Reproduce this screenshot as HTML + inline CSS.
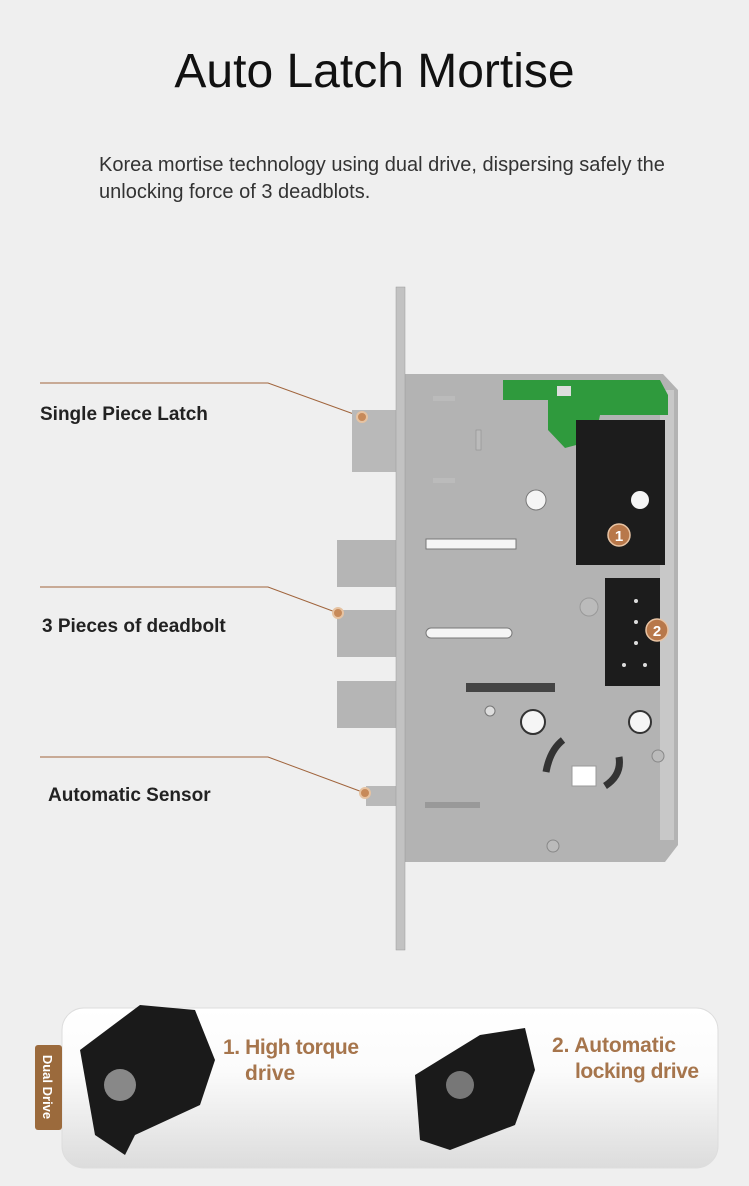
<!DOCTYPE html>
<html><head><meta charset="utf-8"><style>
body{margin:0;width:749px;height:1186px;background:#efefef;font-family:"Liberation Sans",sans-serif;position:relative;overflow:hidden}
.t{position:absolute;white-space:nowrap}
</style></head><body>
<div class="t" style="left:0;width:749px;text-align:center;top:44px;font-size:48px;color:#111;font-weight:300">Auto Latch Mortise</div>
<div class="t" style="left:99px;top:152px;font-size:20px;color:#333;line-height:27px">Korea mortise technology using dual drive, dispersing safely the<br>unlocking force of 3 deadblots.</div>
<div class="t" style="left:40px;top:404px;font-size:19px;font-weight:bold;color:#222">Single Piece Latch</div>
<div class="t" style="left:42px;top:616px;font-size:19px;font-weight:bold;color:#222">3 Pieces of deadbolt</div>
<div class="t" style="left:48px;top:785px;font-size:19px;font-weight:bold;color:#222">Automatic Sensor</div>
<svg width="749" height="1186" style="position:absolute;left:0;top:0">
<defs>
<linearGradient id="pg" x1="0" y1="0" x2="0" y2="1"><stop offset="0" stop-color="#fff"/><stop offset="0.4" stop-color="#fbfbfb"/><stop offset="1" stop-color="#dcdcdc"/></linearGradient>
</defs>
<g stroke="#a0643c" stroke-width="1" fill="none">
<polyline points="40,383 268,383 362,417"/>
<polyline points="40,587 268,587 338,613"/>
<polyline points="40,757 268,757 365,793"/>
</g>
<rect x="352" y="410" width="45" height="62" fill="#b9b9b9"/>
<rect x="337" y="540" width="60" height="47" fill="#b5b5b5"/>
<rect x="337" y="610" width="60" height="47" fill="#b5b5b5"/>
<rect x="337" y="681" width="60" height="47" fill="#b5b5b5"/>
<rect x="366" y="786" width="31" height="20" fill="#b9b9b9"/>
<polygon points="405,374 663,374 678,390 678,845 665,862 405,862" fill="#b3b3b3"/>
<rect x="660" y="390" width="14" height="450" fill="#c8c8c8"/>
<rect x="396" y="287" width="9" height="663" fill="#c2c2c2" stroke="#999" stroke-width="0.5"/>
<polygon points="503,380 660,380 668,395 668,415 600,415 595,440 565,448 548,430 548,400 503,400" fill="#2f9a3d"/>
<rect x="557" y="386" width="14" height="10" fill="#ddd"/>
<rect x="576" y="420" width="89" height="145" fill="#1c1c1c"/>
<circle cx="640" cy="500" r="9" fill="#f5f5f5"/>
<circle cx="619" cy="535" r="11" fill="#b8784a" stroke="#e8c4a4" stroke-width="1.5"/>
<text x="619" y="541" font-size="15" font-weight="bold" fill="#fff" text-anchor="middle" font-family="Liberation Sans">1</text>
<rect x="605" y="578" width="55" height="108" fill="#1c1c1c"/>
<circle cx="636" cy="601" r="2" fill="#ddd"/><circle cx="636" cy="622" r="2" fill="#ddd"/><circle cx="636" cy="643" r="2" fill="#ddd"/><circle cx="624" cy="665" r="2" fill="#ddd"/><circle cx="645" cy="665" r="2" fill="#ddd"/>
<circle cx="657" cy="630" r="11" fill="#b8784a" stroke="#e8c4a4" stroke-width="1.5"/>
<text x="657" y="636" font-size="15" font-weight="bold" fill="#fff" text-anchor="middle" font-family="Liberation Sans">2</text>
<circle cx="536" cy="500" r="10" fill="#f5f5f5" stroke="#777"/>
<circle cx="533" cy="722" r="12" fill="#f5f5f5" stroke="#333" stroke-width="2"/>
<circle cx="640" cy="722" r="11" fill="#f5f5f5" stroke="#333" stroke-width="2"/>
<rect x="426" y="539" width="90" height="10" fill="#f5f5f5" stroke="#777"/>
<rect x="426" y="628" width="86" height="10" rx="5" fill="#f5f5f5" stroke="#777"/>
<rect x="466" y="683" width="89" height="9" fill="#444"/>
<rect x="425" y="802" width="55" height="6" fill="#999"/>
<rect x="433" y="396" width="22" height="5" fill="#bbb"/>
<rect x="433" y="478" width="22" height="5" fill="#bbb"/>
<rect x="476" y="430" width="5" height="20" fill="#bbb" stroke="#888" stroke-width="0.5"/>
<rect x="572" y="766" width="24" height="20" fill="#fff" stroke="#999"/>
<path d="M546 772 Q550 750 563 740" stroke="#333" stroke-width="7" fill="none"/>
<path d="M605 786 Q622 775 619 757" stroke="#333" stroke-width="7" fill="none"/>
<circle cx="589" cy="607" r="9" fill="#bbb" stroke="#999"/>
<circle cx="553" cy="846" r="6" fill="#bbb" stroke="#888"/>
<circle cx="658" cy="756" r="6" fill="#bbb" stroke="#888"/>
<circle cx="490" cy="711" r="5" fill="#ddd" stroke="#777"/>
<circle cx="362" cy="417" r="5" fill="#c78a5a" stroke="#e6c3a2" stroke-width="2"/>
<circle cx="338" cy="613" r="5" fill="#c78a5a" stroke="#e6c3a2" stroke-width="2"/>
<circle cx="365" cy="793" r="5" fill="#c78a5a" stroke="#e6c3a2" stroke-width="2"/>
<rect x="62" y="1008" width="656" height="160" rx="22" fill="url(#pg)" stroke="#ddd"/>
<rect x="35" y="1045" width="27" height="85" rx="3" fill="#9b6a3c"/>
<text transform="translate(43,1087) rotate(90)" font-size="13" font-weight="bold" fill="#fff" text-anchor="middle" font-family="Liberation Sans">Dual Drive</text>
<polygon points="80,1050 140,1005 195,1010 215,1060 200,1105 135,1135 125,1155 95,1135" fill="#1a1a1a"/>
<circle cx="120" cy="1085" r="16" fill="#888"/>
<polygon points="415,1075 480,1035 525,1028 535,1070 515,1125 450,1150 420,1140" fill="#1a1a1a"/>
<circle cx="460" cy="1085" r="14" fill="#777"/>
<text x="223" y="1054" font-size="21" font-weight="bold" fill="#a6754c" font-family="Liberation Sans" textLength="136">1. High torque</text>
<text x="245" y="1080" font-size="21" font-weight="bold" fill="#a6754c" font-family="Liberation Sans">drive</text>
<text x="552" y="1052" font-size="21" font-weight="bold" fill="#a6754c" font-family="Liberation Sans" textLength="124">2. Automatic</text>
<text x="575" y="1078" font-size="21" font-weight="bold" fill="#a6754c" font-family="Liberation Sans" textLength="124">locking drive</text>
</svg>
</body></html>
